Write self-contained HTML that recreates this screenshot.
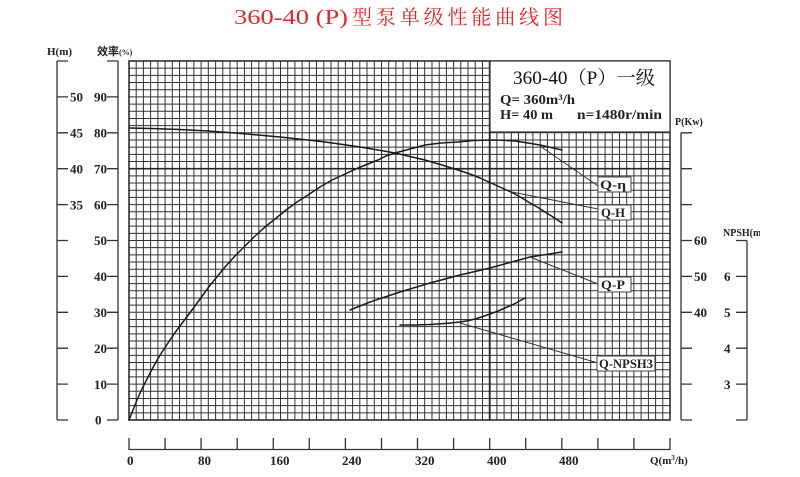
<!DOCTYPE html>
<html><head><meta charset="utf-8"><style>
html,body{margin:0;padding:0;background:#fff;}
svg{display:block;}
.t{font-family:"Liberation Serif","Noto Serif CJK SC",serif;font-weight:bold;fill:#222;}
</style></head><body>
<svg width="800" height="477" viewBox="0 0 800 477" xmlns="http://www.w3.org/2000/svg">
<rect width="800" height="477" fill="#fff"/>
<!-- Title -->
<text x="234" y="24" font-family="Liberation Serif, Noto Serif CJK SC, serif" font-size="21" fill="#e0282a" textLength="114" lengthAdjust="spacingAndGlyphs">360-40 (P)</text>
<text x="352" y="24" font-family="Noto Serif CJK SC, serif" font-size="20" fill="#e0282a" textLength="211" lengthAdjust="spacing">型泵单级性能曲线图</text>

<!-- Grid -->
<g stroke="#333" stroke-width="1" fill="none">
<path d="M129 61V420M136.2 61V420M143.4 61V420M150.6 61V420M157.9 61V420M165.1 61V420M172.3 61V420M179.5 61V420M186.7 61V420M193.9 61V420M201.1 61V420M208.3 61V420M215.6 61V420M222.8 61V420M230 61V420M237.2 61V420M244.4 61V420M251.6 61V420M258.8 61V420M266.1 61V420M273.3 61V420M280.5 61V420M287.7 61V420M294.9 61V420M302.1 61V420M309.3 61V420M316.5 61V420M323.8 61V420M331 61V420M338.2 61V420M345.4 61V420M352.6 61V420M359.8 61V420M367 61V420M374.3 61V420M381.5 61V420M388.7 61V420M395.9 61V420M403.1 61V420M410.3 61V420M417.5 61V420M424.7 61V420M432 61V420M439.2 61V420M446.4 61V420M453.6 61V420M460.8 61V420M468 61V420M475.2 61V420M482.5 61V420M489.7 61V420M496.9 61V420M504.1 61V420M511.3 61V420M518.5 61V420M525.7 61V420M532.9 61V420M540.2 61V420M547.4 61V420M554.6 61V420M561.8 61V420M569 61V420M576.2 61V420M583.4 61V420M590.7 61V420M597.9 61V420M605.1 61V420M612.3 61V420M619.5 61V420M626.7 61V420M633.9 61V420M641.1 61V420M648.4 61V420M655.6 61V420M662.8 61V420M670 61V420"/>
<path d="M129 61H670M129 68.18H670M129 75.36H670M129 82.54H670M129 89.72H670M129 96.9H670M129 104.08H670M129 111.26H670M129 118.44H670M129 125.62H670M129 132.8H670M129 139.98H670M129 147.16H670M129 154.34H670M129 161.52H670M129 168.7H670M129 175.88H670M129 183.06H670M129 190.24H670M129 197.42H670M129 204.6H670M129 211.78H670M129 218.96H670M129 226.14H670M129 233.32H670M129 240.5H670M129 247.68H670M129 254.86H670M129 262.04H670M129 269.22H670M129 276.4H670M129 283.58H670M129 290.76H670M129 297.94H670M129 305.12H670M129 312.3H670M129 319.48H670M129 326.66H670M129 333.84H670M129 341.02H670M129 348.2H670M129 355.38H670M129 362.56H670M129 369.74H670M129 376.92H670M129 384.1H670M129 391.28H670M129 398.46H670M129 405.64H670M129 412.82H670M129 420H670"/>
</g>
<path d="M489.7 61V420" stroke="#222" stroke-width="1.8" fill="none"/>
<path d="M129 168.7H670" stroke="#222" stroke-width="1.6" fill="none"/>
<rect x="129" y="61" width="541" height="359" fill="none" stroke="#222" stroke-width="1.5"/>

<!-- Legend box -->
<rect x="490" y="61" width="180" height="71" fill="#fff" stroke="#333" stroke-width="1.2"/>
<text x="513" y="84" font-family="Liberation Serif, Noto Serif CJK SC, serif" font-size="19" fill="#111" textLength="142" lengthAdjust="spacingAndGlyphs">360-40（P）一级</text>
<text class="t" x="500" y="104" font-size="14" textLength="75" lengthAdjust="spacingAndGlyphs">Q= 360m³/h</text>
<text class="t" x="500" y="119" font-size="14" textLength="53" lengthAdjust="spacingAndGlyphs">H= 40 m</text>
<text class="t" x="577" y="119" font-size="14" textLength="85" lengthAdjust="spacingAndGlyphs">n=1480r/min</text>

<!-- Curves -->
<g fill="none" stroke="#1a1a1a" stroke-width="1.5" stroke-linejoin="round" stroke-linecap="round">
<polyline points="129,420 133,410 137,400 141,391 145,383 150,373 156,362 162,352 168,343 174,334 180,326 186,318 192,310 200,299 208,288 216,278 225,267 235,256 245,246 255,236 265,227 275,219 286,210 297,202 308,195 320,187 332,180 345,174 358,168 368,164 378,160 386,156 395,153 410,149 425,145 441,143 458,142 474,140.5 490,140 503,140.3 515,141 528,143 540,145 551,147.5 562,150"/>
<polyline points="129,128 155,128.6 180,129.5 208,131 235,133 258,135 280,137 303,139.5 325,142 343,144.5 360,147 378,150 395,153 410,156.5 425,160 442,165 458,170 470,174 480,178 491,183 502,188 513,193 522,198 530,203 538,207.5 545,212 553,217 562,223"/>
<polyline points="350,310 360,306 370,302 385,297 400,292 415,287.5 430,283 445,279 460,275 475,271.5 490,268 510,262.5 530,257 546,254.5 562,252"/>
<polyline points="400,325 415,325 430,324.5 445,323.5 460,322 468,320.8 475,319 483,316.5 490,314 498,311 505,308 515,303.5 525,298"/>
</g>

<!-- Leaders -->
<g stroke="#333" stroke-width="1" fill="none">
<path d="M540 146L598 186M512 192L598 209M530 257L598 284M460 323L598 363"/>
</g>
<g fill="#fff" stroke="#444" stroke-width="1">
<rect x="598" y="177" width="33" height="15"/>
<rect x="598" y="205" width="33" height="15"/>
<rect x="598" y="277" width="33" height="15"/>
<rect x="597" y="356" width="58" height="15"/>
</g>
<text class="t" x="600" y="189" font-size="13" textLength="26" lengthAdjust="spacingAndGlyphs">Q-η</text>
<text class="t" x="601" y="217" font-size="13" textLength="24" lengthAdjust="spacingAndGlyphs">Q-H</text>
<text class="t" x="601" y="289" font-size="13" textLength="24" lengthAdjust="spacingAndGlyphs">Q-P</text>
<text class="t" x="599" y="368" font-size="13" textLength="54" lengthAdjust="spacingAndGlyphs">Q-NPSH3</text>

<!-- Left axes -->
<g stroke="#333" stroke-width="1.3" fill="none">
<path d="M57 61V420M57 61H68M57 96.9H68M57 132.8H68M57 168.7H68M57 204.6H68M57 240.5H68M57 276.4H68M57 312.3H68M57 348.2H68M57 384.1H68M57 420H68"/>
<path d="M118 61V420M107 61H118M107 96.9H118M107 132.8H118M107 168.7H118M107 204.6H118M107 240.5H118M107 276.4H118M107 312.3H118M107 348.2H118M107 384.1H118M107 420H118"/>
</g>
<g class="t" font-size="13">
<text x="47" y="55" font-size="11">H(m)</text>
<text x="97" y="55" font-size="11" font-family="Noto Sans CJK SC, sans-serif">效率<tspan font-size="8" font-family="Liberation Serif, serif">(%)</tspan></text>
<text x="70" y="101.5">50</text>
<text x="70" y="137.5">45</text>
<text x="70" y="173.5">40</text>
<text x="70" y="209.5">35</text>
<text x="94" y="101.5">90</text>
<text x="94" y="137.5">80</text>
<text x="94" y="173.5">70</text>
<text x="94" y="209.5">60</text>
<text x="94" y="245">50</text>
<text x="94" y="281">40</text>
<text x="94" y="317">30</text>
<text x="94" y="353">20</text>
<text x="94" y="389">10</text>
<text x="95" y="424.5">0</text>
</g>

<!-- Right axes -->
<g stroke="#333" stroke-width="1.3" fill="none">
<path d="M681 132.8V420M681 132.8H692M681 168.7H692M681 204.6H692M681 240.5H692M681 276.4H692M681 312.3H692M681 348.2H692M681 384.1H692M681 420H692"/>
<path d="M747 240.5V420M736 240.5H747M736 276.4H747M736 312.3H747M736 348.2H747M736 384.1H747M736 420H747"/>
</g>
<g class="t" font-size="13">
<text x="675" y="125" font-size="10">P(Kw)</text>
<text x="694" y="245">60</text>
<text x="694" y="281">50</text>
<text x="694" y="317">40</text>
<text x="724" y="281">6</text>
<text x="724" y="317">5</text>
<text x="724" y="353">4</text>
<text x="724" y="389">3</text>
</g>
<svg x="0" y="0" width="760" height="477" overflow="hidden">
<text class="t" x="723" y="236" font-size="10">NPSH(m)</text>
</svg>

<!-- Bottom axis -->
<g stroke="#333" stroke-width="1.3" fill="none">
<path d="M129 449.5H670M129 438V450M165.1 438V450M201.1 438V450M237.2 438V450M273.3 438V450M309.3 438V450M345.4 438V450M381.5 438V450M417.5 438V450M453.6 438V450M489.7 438V450M525.7 438V450M561.8 438V450M597.9 438V450M633.9 438V450M670 438V450"/>
</g>
<g class="t" font-size="13">
<text x="127" y="465">0</text>
<text x="198" y="465">80</text>
<text x="270" y="465">160</text>
<text x="342" y="465">240</text>
<text x="415" y="465">320</text>
<text x="487" y="465">400</text>
<text x="559" y="465">480</text>
<text x="650" y="464" font-size="11">Q(m<tspan font-size="7" dy="-4">3</tspan><tspan dy="4">/h)</tspan></text>
</g>
</svg>
</body></html>
